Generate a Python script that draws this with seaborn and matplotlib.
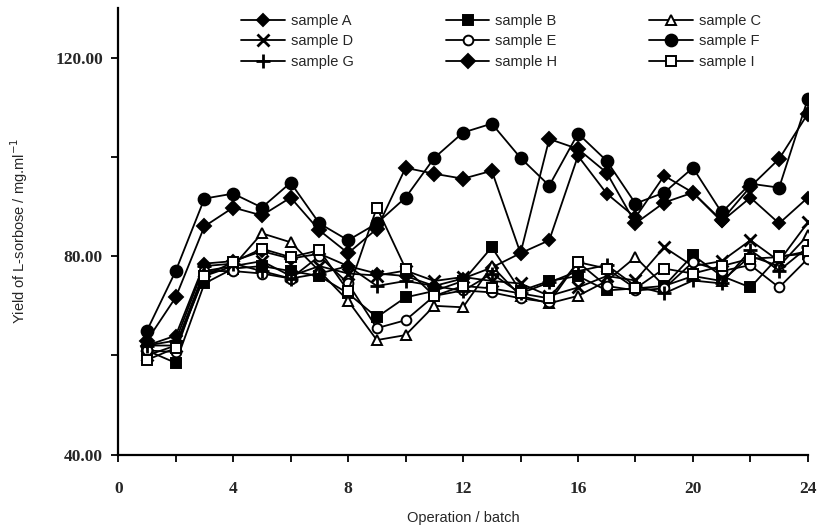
"""Repeated-batch L-sorbose yield for nine samples."""

import matplotlib

matplotlib.use("Agg")
import matplotlib.pyplot as plt
import pandas as pd
import seaborn as sns
from matplotlib.ticker import FixedLocator, MultipleLocator

BATCH = list(range(1, 25))

SAMPLE_A = [62.0, 64.0, 78.5, 79.0, 81.0, 79.5, 80.5, 78.0, 76.5, 76.0, 74.0, 75.5,
            77.7, 80.6, 83.2, 100.2, 92.6, 87.8, 96.2, 92.8, 87.0, 91.8, 86.6, 91.8]
SAMPLE_B = [61.0, 58.5, 74.5, 77.5, 78.0, 77.0, 76.0, 72.5, 67.7, 71.7, 73.0, 75.0,
            81.8, 73.0, 75.0, 76.0, 73.1, 73.5, 74.0, 80.2, 76.0, 73.7, 80.0, 80.5]
SAMPLE_C = [62.0, 62.0, 76.0, 78.0, 84.6, 82.8, 77.0, 71.0, 63.1, 64.1, 70.0, 69.7,
            78.0, 72.0, 70.5, 72.0, 75.0, 79.8, 74.0, 76.0, 75.0, 80.0, 78.0, 84.2]
SAMPLE_D = [60.0, 62.0, 77.0, 78.0, 79.0, 76.0, 78.0, 76.5, 76.1, 77.1, 75.0, 75.8,
            75.0, 74.5, 72.0, 73.7, 76.0, 75.1, 81.8, 78.0, 79.0, 83.2, 79.0, 86.8]
SAMPLE_E = [61.0, 60.7, 77.0, 77.0, 76.5, 75.5, 80.0, 74.5, 65.5, 67.1, 72.0, 73.1,
            72.7, 71.5, 70.7, 78.8, 74.0, 73.1, 73.5, 78.8, 77.0, 78.2, 73.7, 79.5]
SAMPLE_F = [65.0, 77.0, 91.6, 92.6, 89.8, 94.8, 86.6, 83.2, 86.6, 91.8, 99.8, 104.9,
            106.7, 99.8, 94.2, 104.7, 99.2, 90.6, 92.8, 97.8, 88.8, 94.6, 93.8, 111.7]
SAMPLE_G = [62.0, 63.0, 78.0, 78.5, 77.0, 75.5, 76.5, 78.0, 74.0, 75.0, 74.0, 73.0,
            76.5, 72.5, 74.7, 77.0, 78.2, 74.0, 72.5, 75.1, 74.5, 81.2, 77.1, 81.8]
SAMPLE_H = [63.0, 71.7, 86.0, 89.8, 88.2, 91.8, 85.2, 80.6, 85.5, 97.8, 96.6, 95.6,
            97.2, 80.6, 103.6, 101.6, 96.8, 86.6, 90.8, 92.8, 87.2, 94.0, 99.6, 108.7]
SAMPLE_I = [59.1, 61.5, 76.0, 78.8, 81.5, 79.8, 81.2, 73.0, 89.8, 77.5, 72.0, 74.0,
            73.5, 72.5, 71.5, 78.8, 77.5, 73.5, 77.5, 76.5, 78.0, 79.5, 79.8, 81.0]

SAMPLES = {
    "sample A": SAMPLE_A, "sample B": SAMPLE_B, "sample C": SAMPLE_C,
    "sample D": SAMPLE_D, "sample E": SAMPLE_E, "sample F": SAMPLE_F,
    "sample G": SAMPLE_G, "sample H": SAMPLE_H, "sample I": SAMPLE_I,
}

# marker, size, filled
STYLE = {
    "sample A": ("D", 6.0, True),
    "sample B": ("s", 7.0, True),
    "sample C": ("^", 7.0, False),
    "sample D": ("x", 8.0, True),
    "sample E": ("o", 7.0, False),
    "sample F": ("o", 8.5, True),
    "sample G": ("+", 9.5, True),
    "sample H": ("D", 7.0, True),
    "sample I": ("s", 7.0, False),
}

sns.set_theme(style="ticks")
plt.rcParams["font.family"] = ["Liberation Sans Narrow", "Liberation Sans", "DejaVu Sans"]

fig, ax = plt.subplots(figsize=(8.21, 5.30), dpi=100)
fig.subplots_adjust(left=0.144, right=0.984, bottom=0.142, top=0.985)

for name, values in SAMPLES.items():
    marker, size, filled = STYLE[name]
    df = pd.DataFrame({"batch": BATCH, "yield": values})
    sns.lineplot(data=df, x="batch", y="yield", ax=ax, color="black", linewidth=1.3,
                 marker=marker, markersize=size,
                 markerfacecolor="black" if filled else "white",
                 markeredgecolor="black", markeredgewidth=2.0 if marker in "x+" else 1.4,
                 label=name)

ax.set_xlim(0, 24)
ax.set_ylim(40, 130)
ax.xaxis.set_major_locator(MultipleLocator(2))
ax.set_xticklabels([str(int(t)) if t % 4 == 0 else "" for t in ax.get_xticks()])
ax.yaxis.set_major_locator(FixedLocator([40, 80, 120]))
ax.yaxis.set_minor_locator(FixedLocator([60, 100]))
ax.set_yticklabels(["40.00", "80.00", "120.00"])
for lab in ax.get_xticklabels() + ax.get_yticklabels():
    lab.set_family(["Liberation Serif", "DejaVu Serif"])
    lab.set_fontweight("bold")
    lab.set_fontsize(12.5)
ax.tick_params(axis="both", which="both", direction="out", length=5, width=1.3, color="black")
ax.tick_params(axis="x", pad=14)
ax.tick_params(axis="y", pad=6)
for side in ("left", "bottom"):
    ax.spines[side].set_linewidth(1.6)
    ax.spines[side].set_color("black")
sns.despine(ax=ax)

ax.set_xlabel("Operation / batch", fontsize=10.5, labelpad=10)
ax.set_ylabel(r"Yield of L-sorbose / mg.ml$^{-1}$", fontsize=10.5, labelpad=18)

handles, labels = ax.get_legend_handles_labels()
order = [0, 3, 6, 1, 4, 7, 2, 5, 8]
ax.legend([handles[i] for i in order], [labels[i] for i in order], ncol=3,
          loc="upper left", bbox_to_anchor=(0.17, 1.0), frameon=False, fontsize=10.5,
          handlelength=3.0, columnspacing=6.3, labelspacing=0.45, handletextpad=0.4,
          borderaxespad=0.0)

fig.savefig("out.png", dpi=100)
